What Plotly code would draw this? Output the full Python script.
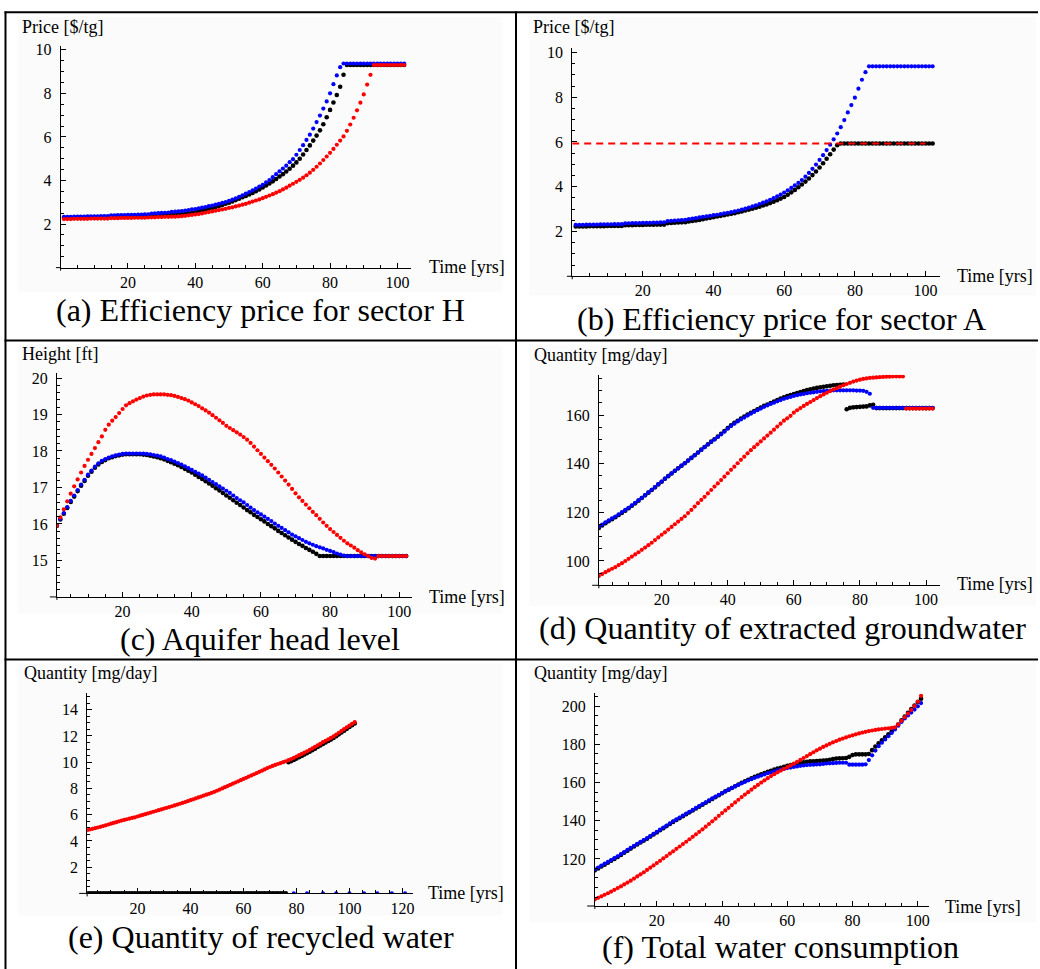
import plotly.graph_objects as go

W, H = 1040, 969

# ---------------- data ----------------
YEARS = list(range(1, 103))      # panels a-e
YEARS_F = list(range(1, 102))    # panel f

BLUE_A = [2.33,2.33,2.33,2.34,2.34,2.34,2.34,2.35,2.35,2.35,
          2.35,2.36,2.36,2.36,2.40,2.40,2.41,2.41,2.41,2.42,
          2.42,2.42,2.43,2.43,2.44,2.44,2.48,2.49,2.50,2.51,
          2.52,2.53,2.56,2.57,2.58,2.60,2.62,2.64,2.67,2.69,
          2.72,2.75,2.78,2.82,2.85,2.89,2.93,2.97,3.01,3.06,
          3.12,3.18,3.25,3.32,3.40,3.47,3.55,3.63,3.72,3.80,
          3.91,4.02,4.15,4.29,4.42,4.55,4.68,4.84,4.98,5.18,
          5.40,5.62,5.86,6.10,6.38,6.68,6.98,7.30,7.63,8.00,
          8.42,8.82,9.20,9.37,9.37,9.37,9.37,9.37,9.37,9.37,
          9.37,9.37,9.37,9.37,9.37,9.37,9.37,9.37,9.37,9.37,
          9.37,9.37]
BLACK_A = [2.29,2.29,2.29,2.29,2.30,2.30,2.30,2.30,2.30,2.31,
           2.31,2.31,2.31,2.31,2.33,2.33,2.34,2.34,2.34,2.35,
           2.35,2.35,2.36,2.36,2.36,2.37,2.39,2.39,2.40,2.40,
           2.41,2.41,2.42,2.42,2.43,2.45,2.47,2.49,2.51,2.54,
           2.58,2.62,2.66,2.70,2.74,2.78,2.83,2.88,2.93,2.98,
           3.04,3.10,3.16,3.23,3.29,3.36,3.43,3.51,3.59,3.68,
           3.77,3.86,3.96,4.07,4.18,4.29,4.41,4.54,4.68,4.83,
           5.00,5.19,5.40,5.61,5.83,6.06,6.30,6.58,6.90,7.24,
           7.58,7.92,8.30,8.85,9.30,9.30,9.30,9.30,9.30,9.30,
           9.30,9.30,9.30,9.30,9.30,9.30,9.30,9.30,9.30,9.30,
           9.30,9.30]
RED_A = [2.23,2.23,2.23,2.24,2.24,2.24,2.24,2.24,2.25,2.25,
         2.25,2.25,2.25,2.25,2.27,2.27,2.27,2.28,2.28,2.28,
         2.28,2.29,2.29,2.29,2.29,2.30,2.31,2.31,2.32,2.32,
         2.33,2.33,2.34,2.34,2.35,2.36,2.38,2.40,2.42,2.44,
         2.46,2.49,2.52,2.55,2.58,2.61,2.64,2.67,2.70,2.74,
         2.77,2.81,2.85,2.89,2.93,2.98,3.03,3.08,3.13,3.19,
         3.25,3.31,3.37,3.44,3.51,3.59,3.67,3.76,3.85,3.94,
         4.03,4.13,4.24,4.36,4.49,4.63,4.78,4.94,5.10,5.27,
         5.45,5.64,5.83,6.02,6.28,6.57,6.88,7.22,7.57,7.95,
         8.40,8.85,9.30,9.30,9.30,9.30,9.30,9.30,9.30,9.30,
         9.30,9.30]

BLUE_B = [2.30,2.30,2.30,2.31,2.31,2.31,2.31,2.32,2.32,2.32,
          2.32,2.33,2.33,2.33,2.37,2.37,2.38,2.38,2.38,2.39,
          2.39,2.39,2.40,2.40,2.41,2.41,2.47,2.48,2.49,2.50,
          2.51,2.52,2.56,2.58,2.60,2.63,2.66,2.68,2.70,2.73,
          2.75,2.78,2.81,2.84,2.87,2.90,2.94,2.98,3.02,3.07,
          3.12,3.17,3.23,3.29,3.35,3.42,3.49,3.57,3.65,3.74,
          3.84,3.95,4.06,4.17,4.30,4.45,4.62,4.80,4.99,5.20,
          5.41,5.64,5.88,6.12,6.38,6.66,6.98,7.32,7.65,7.98,
          8.38,8.78,9.12,9.38,9.38,9.38,9.38,9.38,9.38,9.38,
          9.38,9.38,9.38,9.38,9.38,9.38,9.38,9.38,9.38,9.38,
          9.38,9.38]
BLACK_B = [2.23,2.23,2.23,2.23,2.24,2.24,2.24,2.24,2.24,2.25,
           2.25,2.25,2.25,2.25,2.28,2.28,2.28,2.29,2.29,2.29,
           2.30,2.30,2.30,2.31,2.31,2.31,2.37,2.38,2.39,2.40,
           2.41,2.42,2.45,2.47,2.49,2.52,2.55,2.58,2.61,2.64,
           2.67,2.70,2.73,2.76,2.79,2.82,2.86,2.90,2.94,2.98,
           3.02,3.06,3.11,3.16,3.21,3.27,3.33,3.40,3.47,3.54,
           3.64,3.75,3.86,3.98,4.10,4.23,4.37,4.52,4.68,4.86,
           5.05,5.25,5.45,5.66,5.86,5.93,5.93,5.93,5.93,5.93,
           5.93,5.93,5.93,5.93,5.93,5.93,5.93,5.93,5.93,5.93,
           5.93,5.93,5.93,5.93,5.93,5.93,5.93,5.93,5.93,5.93,
           5.93,5.93]
CAP_B_X = [0, 100]
CAP_B_Y = [5.93, 5.93]

RED_C = [15.95,16.18,16.40,16.62,16.83,17.03,17.22,17.41,17.59,17.76,
         17.92,18.08,18.24,18.40,18.58,18.72,18.83,18.93,19.04,19.15,
         19.25,19.31,19.36,19.41,19.45,19.49,19.52,19.54,19.55,19.55,
         19.55,19.55,19.54,19.53,19.51,19.48,19.45,19.42,19.38,19.33,
         19.28,19.23,19.17,19.11,19.05,18.98,18.91,18.84,18.77,18.69,
         18.63,18.57,18.51,18.45,18.38,18.31,18.22,18.12,18.02,17.92,
         17.82,17.72,17.62,17.52,17.41,17.30,17.19,17.08,16.96,16.84,
         16.73,16.63,16.53,16.43,16.33,16.24,16.14,16.04,15.95,15.86,
         15.78,15.70,15.62,15.54,15.47,15.41,15.35,15.28,15.22,15.17,
         15.12,15.07,15.05,15.12,15.12,15.12,15.12,15.12,15.12,15.12,
         15.12,15.12]
BLUE_C = [15.95,16.14,16.30,16.46,16.63,16.78,16.93,17.08,17.21,17.35,
          17.46,17.57,17.66,17.73,17.78,17.82,17.85,17.88,17.90,17.92,
          17.93,17.93,17.93,17.93,17.93,17.93,17.92,17.91,17.89,17.87,
          17.85,17.82,17.78,17.75,17.71,17.67,17.63,17.58,17.53,17.48,
          17.43,17.38,17.33,17.27,17.21,17.15,17.09,17.03,16.97,16.91,
          16.85,16.78,16.71,16.65,16.59,16.52,16.45,16.38,16.32,16.26,
          16.20,16.14,16.08,16.01,15.95,15.89,15.83,15.77,15.71,15.66,
          15.61,15.56,15.51,15.47,15.43,15.39,15.36,15.33,15.29,15.26,
          15.23,15.19,15.16,15.13,15.12,15.12,15.12,15.12,15.12,15.12,
          15.12,15.12,15.12,15.12,15.12,15.12,15.12,15.12,15.12,15.12,
          15.12,15.12]
BLACK_C = [15.95,16.12,16.28,16.44,16.60,16.75,16.90,17.05,17.18,17.32,
           17.43,17.54,17.63,17.70,17.75,17.80,17.83,17.86,17.88,17.90,
           17.91,17.91,17.91,17.91,17.91,17.90,17.89,17.87,17.85,17.83,
           17.80,17.77,17.73,17.69,17.65,17.61,17.56,17.51,17.46,17.41,
           17.35,17.29,17.23,17.17,17.11,17.05,16.98,16.92,16.85,16.78,
           16.72,16.65,16.58,16.52,16.45,16.38,16.32,16.25,16.19,16.13,
           16.07,16.00,15.94,15.88,15.81,15.75,15.69,15.63,15.57,15.51,
           15.45,15.40,15.34,15.29,15.24,15.18,15.12,15.12,15.12,15.12,
           15.12,15.12,15.12,15.12,15.12,15.12,15.12,15.12,15.12,15.12,
           15.12,15.12,15.12,15.12,15.12,15.12,15.12,15.12,15.12,15.12,
           15.12,15.12]

BLUE_D = [114.0,115.0,115.9,116.7,117.5,118.3,119.2,120.1,121.0,121.9,
          122.9,123.9,125.0,126.0,127.1,128.2,129.3,130.4,131.6,132.7,
          133.9,135.0,136.0,137.1,138.1,139.2,140.2,141.3,142.4,143.5,
          144.6,145.7,146.8,147.9,149.0,150.0,151.0,152.1,153.2,154.4,
          155.5,156.5,157.4,158.2,159.0,159.8,160.6,161.3,162.0,162.7,
          163.4,164.0,164.6,165.1,165.7,166.2,166.7,167.1,167.5,167.9,
          168.2,168.5,168.7,169.0,169.2,169.4,169.6,169.8,169.9,170.0,
          170.1,170.2,170.2,170.2,170.2,170.2,170.2,170.2,170.1,170.1,
          170.0,169.6,168.8,163.0,163.0,163.0,163.0,163.0,163.0,163.0,
          163.0,163.0,163.0,163.0,163.0,163.0,163.0,163.0,163.0,163.0,
          163.0,163.0]
BLACK_D = [113.6,114.6,115.5,116.4,117.2,118.0,118.9,119.8,120.7,121.7,
           122.7,123.7,124.8,125.9,127.0,128.1,129.2,130.3,131.5,132.6,
           133.8,134.9,136.0,137.1,138.1,139.2,140.2,141.3,142.4,143.5,
           144.6,145.8,146.9,148.0,149.1,150.1,151.2,152.3,153.5,154.7,
           155.8,156.8,157.7,158.6,159.4,160.2,161.0,161.7,162.4,163.1,
           163.8,164.4,165.0,165.6,166.2,166.8,167.3,167.8,168.3,168.7,
           169.1,169.5,169.9,170.3,170.6,170.9,171.2,171.5,171.7,171.9,
           172.1,172.3,172.4,172.5,172.6,162.4,163.0,163.2,163.3,163.4,
           163.5,163.6,164.0,164.3,162.9,162.9,162.9,162.9,162.9,162.9,
           162.9,162.9,162.9,162.9,162.9,162.9,162.9,162.9,162.9,162.9,
           162.9,162.9]
RED_D = [93.8,94.6,95.4,96.1,96.8,97.5,98.3,99.1,100.0,100.9,
         101.8,102.7,103.6,104.6,105.5,106.5,107.5,108.6,109.7,110.8,
         111.8,112.9,114.0,115.1,116.2,117.3,118.4,119.7,121.0,122.4,
         123.8,125.1,126.4,127.8,129.2,130.6,131.9,133.3,134.7,136.1,
         137.5,138.8,140.2,141.6,142.9,144.3,145.6,146.8,148.0,149.2,
         150.4,151.6,152.8,154.0,155.3,156.5,157.7,158.7,159.7,161.0,
         162.0,162.9,163.8,164.6,165.4,166.2,167.0,167.8,168.5,169.2,
         169.9,170.5,171.1,171.7,172.3,172.8,173.3,173.8,174.2,174.6,
         174.9,175.1,175.3,175.4,175.5,175.6,175.7,175.8,175.8,175.9,
         175.9,175.9,175.9,162.7,162.7,162.7,162.7,162.7,162.7,162.7,
         162.7,162.7]

RED_E = [4.82,4.87,4.92,4.97,5.02,5.07,5.13,5.19,5.25,5.31,
         5.37,5.43,5.49,5.55,5.60,5.65,5.70,5.75,5.80,5.86,
         5.92,5.98,6.04,6.10,6.16,6.22,6.28,6.34,6.40,6.46,
         6.52,6.58,6.64,6.70,6.77,6.83,6.89,6.96,7.03,7.10,
         7.17,7.24,7.31,7.38,7.45,7.52,7.59,7.66,7.74,7.82,
         7.91,8.00,8.09,8.18,8.27,8.36,8.45,8.54,8.63,8.72,
         8.81,8.90,8.99,9.08,9.17,9.26,9.35,9.45,9.55,9.63,
         9.71,9.79,9.86,9.93,10.00,10.07,10.15,10.24,10.33,10.43,
         10.53,10.63,10.73,10.83,10.94,11.05,11.17,11.28,11.40,11.52,
         11.63,11.74,11.85,11.97,12.10,12.24,12.38,12.52,12.66,12.79,
         12.92,13.05]
BLACK_E = [0,0,0,0,0,0,0,0,0,0,
           0,0,0,0,0,0,0,0,0,0,
           0,0,0,0,0,0,0,0,0,0,
           0,0,0,0,0,0,0,0,0,0,
           0,0,0,0,0,0,0,0,0,0,
           0,0,0,0,0,0,0,0,0,0,
           0,0,0,0,0,0,0,0,0,0,
           0,0,0,0,0,0,10.00,10.08,10.17,10.27,
           10.37,10.47,10.58,10.69,10.80,10.91,11.03,11.15,11.27,11.39,
           11.50,11.61,11.72,11.85,11.98,12.12,12.26,12.40,12.54,12.68,
           12.82,12.95]
BLUE_E_X = [79, 84, 90, 95, 100, 105.5, 110.5, 116, 121]
BLUE_E = [0, 0, 0, 0, 0, 0, 0, 0, 0]

BLUE_F = [114.5,115.5,116.5,117.5,118.4,119.4,120.4,121.4,122.5,123.6,
          124.7,125.8,126.9,127.9,128.9,129.9,130.9,132.0,133.1,134.2,
          135.3,136.4,137.5,138.6,139.7,140.7,141.7,142.7,143.7,144.7,
          145.7,146.7,147.7,148.7,149.7,150.7,151.7,152.7,153.6,154.5,
          155.4,156.3,157.2,158.0,158.8,159.6,160.4,161.1,161.8,162.5,
          163.1,163.7,164.3,164.9,165.4,165.9,166.4,166.8,167.2,167.6,
          167.9,168.2,168.5,168.8,169.0,169.2,169.3,169.4,169.5,169.6,
          169.8,170.0,170.1,170.2,170.3,170.4,170.4,170.4,169.4,169.4,
          169.4,169.4,169.4,169.6,171.8,174.3,176.8,179.1,180.9,182.6,
          184.3,186.0,187.9,189.8,191.8,193.6,195.2,196.7,198.3,200.0,
          201.7]
BLACK_F = [114.0,115.0,116.0,117.0,118.0,119.0,120.0,121.0,122.1,123.2,
           124.3,125.4,126.5,127.6,128.6,129.6,130.6,131.7,132.8,133.9,
           135.0,136.1,137.2,138.3,139.4,140.4,141.4,142.4,143.4,144.4,
           145.4,146.4,147.4,148.4,149.4,150.4,151.4,152.4,153.4,154.4,
           155.4,156.3,157.2,158.1,159.0,159.9,160.7,161.5,162.3,163.0,
           163.7,164.4,165.0,165.6,166.2,166.8,167.3,167.8,168.3,168.8,
           169.2,169.6,170.0,170.4,170.7,170.9,171.1,171.2,171.3,171.4,
           171.5,171.7,172.0,172.3,172.6,172.7,172.8,172.9,173.5,174.5,
           174.8,174.8,174.8,174.8,175.0,177.0,178.9,180.6,182.2,183.8,
           185.3,186.9,188.6,190.4,192.6,194.6,196.6,198.5,200.4,202.2,
           204.0]
RED_F = [98.8,99.6,100.4,101.2,102.0,102.9,103.8,104.7,105.6,106.6,
         107.6,108.6,109.7,110.8,111.9,113.0,114.2,115.4,116.6,117.8,
         119.0,120.3,121.5,122.8,124.0,125.3,126.5,127.8,129.0,130.3,
         131.6,132.9,134.2,135.5,136.9,138.3,139.7,141.1,142.6,144.0,
         145.4,146.8,148.2,149.6,151.0,152.4,153.7,155.0,156.3,157.6,
         158.8,160.0,161.2,162.3,163.4,164.4,165.4,166.3,167.2,168.1,
         169.0,169.9,170.9,171.9,172.9,173.9,174.9,175.9,176.9,177.8,
         178.7,179.5,180.3,181.1,181.8,182.5,183.1,183.7,184.3,184.8,
         185.3,185.8,186.2,186.6,187.0,187.3,187.6,187.9,188.1,188.3,
         188.5,188.7,189.0,190.5,192.4,194.3,196.2,198.1,200.1,202.4,
         205.5]

X_TICKS = [20, 40, 60, 80, 100]
X_TICKS_E = [20, 40, 60, 80, 100, 120]
Y_TICKS_A = [2, 4, 6, 8, 10]
Y_TICKS_C = [15, 16, 17, 18, 19, 20]
Y_TICKS_D = [100, 120, 140, 160]
Y_TICKS_E = [2, 4, 6, 8, 10, 12, 14]
Y_TICKS_F = [120, 140, 160, 180, 200]

Y_LABELS = ["Price [$/tg]", "Price [$/tg]", "Height [ft]",
            "Quantity [mg/day]", "Quantity [mg/day]", "Quantity [mg/day]"]
X_LABEL = "Time [yrs]"
CAPTIONS = ["(a) Efficiency price for sector H",
            "(b) Efficiency price for sector A",
            "(c) Aquifer head level",
            "(d) Quantity of extracted groundwater",
            "(e) Quantity of recycled water",
            "(f) Total water consumption"]

# ---------------- layout geometry (pixels) ----------------
def fx(p):
    return p / W

def fy(p):
    return 1 - p / H

SERIF = "Liberation Serif, Times New Roman, serif"
BLACK, BLUE, RED = "#000000", "#0000ff", "#ff0000"

panels = [
    dict(l=60.7, r=411.7, b=264.0, t=41.7, xr=[0, 104], yr=[0, 10.15],
         yt=Y_TICKS_A, xt=X_TICKS, ym=0.5, ext=4.7,
         yl=(20, 22), xl=(428, 263), cap=(261, 307)),
    dict(l=573.3, r=941.5, b=272.7, t=43.2, xr=[0, 104], yr=[0, 10.2],
         yt=Y_TICKS_A, xt=X_TICKS, ym=0.5, ext=5.3,
         yl=(532, 22), xl=(957, 272), cap=(783, 316)),
    dict(l=57.0, r=413.2, b=595.0, t=369.8, xr=[1, 103.8], yr=[14, 20.14],
         yt=Y_TICKS_C, xt=X_TICKS, ym=0.2, ext=7,
         yl=(20, 350.7), xl=(428, 595), cap=(261, 637)),
    dict(l=600.0, r=941.7, b=583.3, t=371.7, xr=[1, 104.2], yr=[90, 176.6],
         yt=Y_TICKS_D, xt=X_TICKS, ym=5, ext=6.7,
         yl=(532.7, 351.7), xl=(956.7, 581.7), cap=(784, 626)),
    dict(l=87.3, r=413.3, b=893.0, t=691.7, xr=[1, 123.8], yr=[0, 15.26],
         yt=Y_TICKS_E, xt=X_TICKS_E, ym=0.5, ext=8,
         yl=(21.7, 671.7), xl=(426.7, 892.7), cap=(261.5, 937)),
    dict(l=596.0, r=931.0, b=905.7, t=691.7, xr=[1, 103.5], yr=[95.3, 206.9],
         yt=Y_TICKS_F, xt=X_TICKS, ym=5, ext=7.7,
         yl=(532.7, 671.7), xl=(945, 906.7), cap=(782.5, 947)),
]

series = [
    [(YEARS, BLACK_A, BLACK), (YEARS, BLUE_A, BLUE), (YEARS, RED_A, RED)],
    [(YEARS, BLACK_B, BLACK), (YEARS, BLUE_B, BLUE)],
    [(YEARS, BLACK_C, BLACK), (YEARS, BLUE_C, BLUE), (YEARS, RED_C, RED)],
    [(YEARS, BLACK_D, BLACK), (YEARS, BLUE_D, BLUE), (YEARS, RED_D, RED)],
    [(YEARS, BLACK_E, BLACK), (BLUE_E_X, BLUE_E, BLUE), (YEARS, RED_E, RED)],
    [(YEARS_F, BLACK_F, BLACK), (YEARS_F, BLUE_F, BLUE), (YEARS_F, RED_F, RED)],
]

fig = go.Figure()
layout = dict(width=W, height=H, margin=dict(l=0, r=0, t=0, b=0),
              paper_bgcolor="white", plot_bgcolor="rgba(0,0,0,0)",
              showlegend=False)
shapes = []
annotations = []

bg_boxes = [(18, 12, 503, 289), (530, 12, 1038, 292), (18, 342, 503, 612),
            (530, 342, 1038, 604), (18, 662, 503, 915), (530, 662, 1038, 922)]
for (x0, y0, x1, y1) in bg_boxes:
    shapes.append(dict(type="rect", xref="paper", yref="paper", layer="below",
                       x0=fx(x0), x1=fx(x1), y0=fy(y1), y1=fy(y0),
                       fillcolor="#fbfbfb", line=dict(width=0)))

tickfont = dict(family=SERIF, size=16, color="black")
labelfont = dict(family=SERIF, size=18, color="black")
capfont = dict(family=SERIF, size=32, color="black")
for i, p in enumerate(panels):
    n = "" if i == 0 else str(i + 1)
    xa, ya = "xaxis" + n, "yaxis" + n
    layout[xa] = dict(domain=[fx(p["l"]), fx(p["r"])], range=p["xr"],
                      anchor="y" + n, showline=True, linecolor="black",
                      linewidth=1, ticks="inside", ticklen=5, tickwidth=1,
                      tickcolor="black", tickvals=p["xt"], tickfont=tickfont,
                      showgrid=False, zeroline=False, ticklabelstandoff=0,
                      minor=dict(ticks="inside", ticklen=3, tickwidth=1,
                                 tickcolor="black", tick0=0, dtick=5,
                                 showgrid=False))
    layout[ya] = dict(domain=[fy(p["b"]), fy(p["t"])], range=p["yr"],
                      anchor="x" + n, showline=True, linecolor="black",
                      linewidth=1, ticks="inside", ticklen=5, tickwidth=1,
                      tickcolor="black", tickvals=p["yt"], tickfont=tickfont,
                      showgrid=False, zeroline=False, ticklabelstandoff=5,
                      minor=dict(ticks="inside", ticklen=3, tickwidth=1,
                                 tickcolor="black", tick0=0, dtick=p["ym"],
                                 showgrid=False))
    shapes.append(dict(type="line", xref="paper", yref="paper",
                       x0=fx(p["l"] - p["ext"]), x1=fx(p["l"]),
                       y0=fy(p["b"]), y1=fy(p["b"]),
                       line=dict(color="black", width=1)))
    shapes.append(dict(type="line", xref="paper", yref="paper",
                       x0=fx(p["l"]), x1=fx(p["l"]),
                       y0=fy(p["b"] + 3), y1=fy(p["b"]),
                       line=dict(color="black", width=1)))

    for (xs, ys, col) in series[i]:
        fig.add_trace(go.Scatter(x=xs, y=ys, mode="markers",
                                 xaxis="x" + n, yaxis="y" + n,
                                 marker=dict(color=col,
                                             size=4.6 if col == BLACK else 4.2,
                                             line=dict(width=0)),
                                 hoverinfo="skip"))
    if i == 1:
        fig.add_trace(go.Scatter(x=CAP_B_X, y=CAP_B_Y, mode="lines",
                                 xaxis="x2", yaxis="y2",
                                 line=dict(color=RED, width=2,
                                           dash="7px,5px"),
                                 hoverinfo="skip"))

    annotations.append(dict(xref="paper", yref="paper", x=fx(p["yl"][0]),
                            y=fy(p["yl"][1]), xanchor="left", yanchor="middle",
                            text=Y_LABELS[i], showarrow=False, font=labelfont))
    annotations.append(dict(xref="paper", yref="paper", x=fx(p["xl"][0]),
                            y=fy(p["xl"][1]), xanchor="left", yanchor="middle",
                            text=X_LABEL, showarrow=False, font=labelfont))
    annotations.append(dict(xref="paper", yref="paper", x=fx(p["cap"][0]),
                            y=fy(p["cap"][1]), xanchor="center",
                            yanchor="middle", text=CAPTIONS[i],
                            showarrow=False, font=capfont))

grid = [(5.5, 6.5, 5.5, 969), (517, 6.5, 517, 969),
        (4.5, 7.3, 1040, 7.3), (4.5, 337.3, 1040, 337.3),
        (4.5, 658, 1040, 658)]
for (x0, y0, x1, y1) in grid:
    shapes.append(dict(type="line", xref="paper", yref="paper",
                       x0=fx(x0), x1=fx(x1), y0=fy(y0), y1=fy(y1),
                       line=dict(color="black", width=2)))

layout["shapes"] = shapes
layout["annotations"] = annotations
fig.update_layout(**layout)
fig.write_html("out.html", config={"displayModeBar": False},
               post_script="document.body.style.margin='0px';"
                           "document.body.style.overflow='hidden';")
